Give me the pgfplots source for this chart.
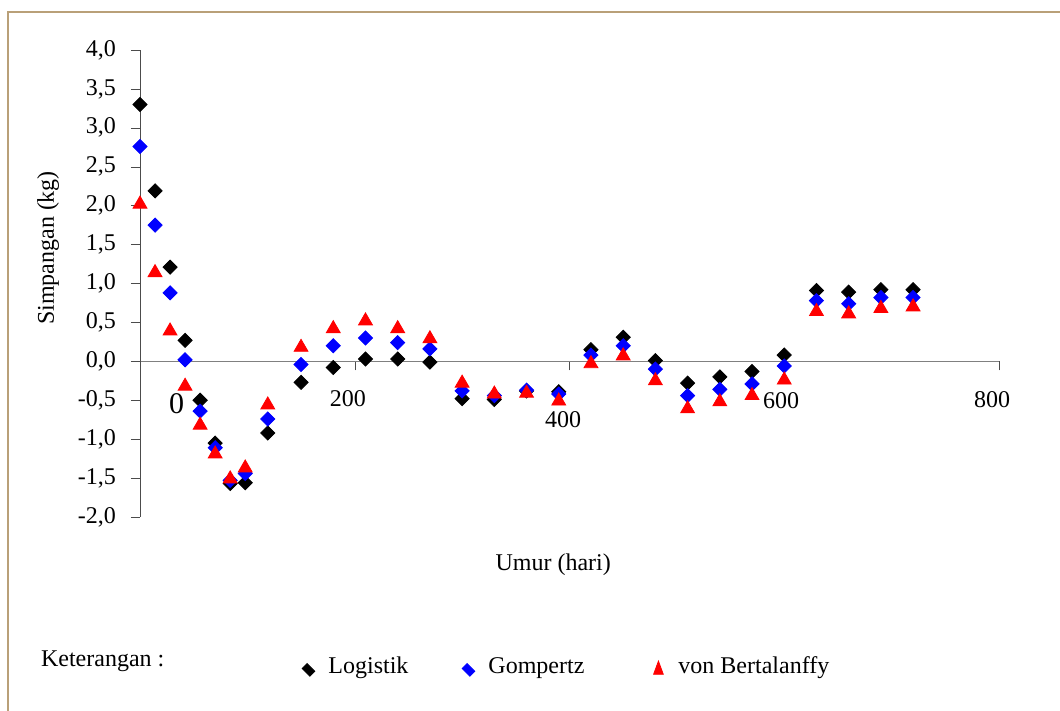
\documentclass[border=0pt]{standalone}
\usepackage{fontspec}
\setmainfont{Liberation Serif}
\usepackage{pgfplots}
\pgfplotsset{compat=1.18}
\usepackage{pgfplotstable}

\definecolor{framec}{RGB}{185,160,120}
\newcommand\fs{\fontsize{12}{14.4}\selectfont}

% umur (hari) dan simpangan tiap model
\pgfplotstableread{
x    logi   gomp   vonb
0    3.30   2.76   2.02
14   2.19   1.75   1.14
28   1.21   0.88   0.39
42   0.27   0.02  -0.32
56  -0.50  -0.64  -0.82
70  -1.05  -1.11  -1.19
84  -1.57  -1.53  -1.51
98  -1.56  -1.44  -1.37
119 -0.92  -0.74  -0.56
150 -0.27  -0.04   0.18
180 -0.08   0.20   0.42
210  0.03   0.30   0.52
240  0.03   0.24   0.42
270 -0.01   0.16   0.29
300 -0.48  -0.38  -0.28
330 -0.49  -0.44  -0.42
360 -0.38  -0.37  -0.41
390 -0.39  -0.42  -0.51
420  0.15   0.08  -0.03
450  0.31   0.20   0.07
480  0.01  -0.10  -0.25
510 -0.28  -0.44  -0.61
540 -0.20  -0.36  -0.52
570 -0.13  -0.29  -0.44
600  0.08  -0.06  -0.24
630  0.91   0.78   0.64
660  0.89   0.74   0.61
690  0.92   0.82   0.68
720  0.92   0.82   0.70
}\simpangan

\begin{document}
\begin{tikzpicture}[font=\fs]
\begin{axis}[
  scale only axis, width=429.5pt, height=233.5pt,
  xmin=0, xmax=800, ymin=-2, ymax=4,
  axis y line=left, axis x line=middle,
  axis line style={-},
  x axis line style={black!50},
  y axis line style={black!70},
  xtick={0,200,400,600,800}, xticklabels={},
  ytick={-2,-1.5,-1,-0.5,0,0.5,1,1.5,2,2.5,3,3.5,4},
  tick align=outside, major tick length=4.5pt,
  tick style={black!70},
  /pgf/number format/fixed,
  /pgf/number format/fixed zerofill,
  /pgf/number format/precision=1,
  /pgf/number format/use comma,
  /pgf/number format/assume math mode=true,
  yticklabel style={font=\fs, xshift=-4pt},
  clip=false,
  xlabel={Umur (hari)},
  ylabel={Simpangan (kg)},
  every axis x label/.style={at={(rel axis cs:0.481,-0.103)}, anchor=center, font=\fs},
  every axis y label/.style={at={(rel axis cs:-0.107,0.576)}, rotate=90, anchor=center, font=\fs},
  legend columns=3,
  legend style={draw=none, fill=none, font=\fs,
    at={(rel axis cs:0.177,-0.321)}, anchor=west,
    nodes={inner sep=0pt},
    /tikz/every odd column/.append style={column sep=5pt},
    /tikz/every even column/.append style={column sep=0pt}},
  legend image code/.code={%
    \path[draw=none, fill=none] (-5pt,0) -- (5pt,0);
    \draw[#1, every mark/.append style={xscale=0.7, yscale=1.1}] plot coordinates {(0pt,-1.5pt)};},
]
\addplot[only marks, mark=square*, mark size=2.5pt, color=black,
  mark options={rotate=45}] table[x=x, y=logi] {\simpangan};
\addlegendentry{\makebox[65pt][l]{Logistik}}
\addplot[only marks, mark=square*, mark size=2.5pt, color=blue,
  mark options={rotate=45}] table[x=x, y=gomp] {\simpangan};
\addlegendentry{\makebox[80pt][l]{Gompertz}}
\addplot[only marks, mark=triangle*, mark size=4pt, color=red]
  table[x=x, y=vonb] {\simpangan};
\addlegendentry{von Bertalanffy}

% label sumbu x yang letaknya tidak beraturan
\node[font=\fontsize{15}{18}\selectfont] at (axis cs:34.2,-0.546) {0};
\node at (axis cs:193.7,-0.485) {200};
\node at (axis cs:394,-0.744) {400};
\node at (axis cs:597,-0.50) {600};
\node at (axis cs:793.6,-0.49) {800};
\end{axis}

\node[anchor=base west] at (-53pt,-75pt) {Keterangan :};

\pgfresetboundingbox
\useasboundingbox (-70pt,-97pt) rectangle (460pt,258.5pt);
\draw[framec, line width=1pt] (-66pt,-100pt) -- (-66pt,252.5pt) -- (465pt,252.5pt);
\end{tikzpicture}
\end{document}
